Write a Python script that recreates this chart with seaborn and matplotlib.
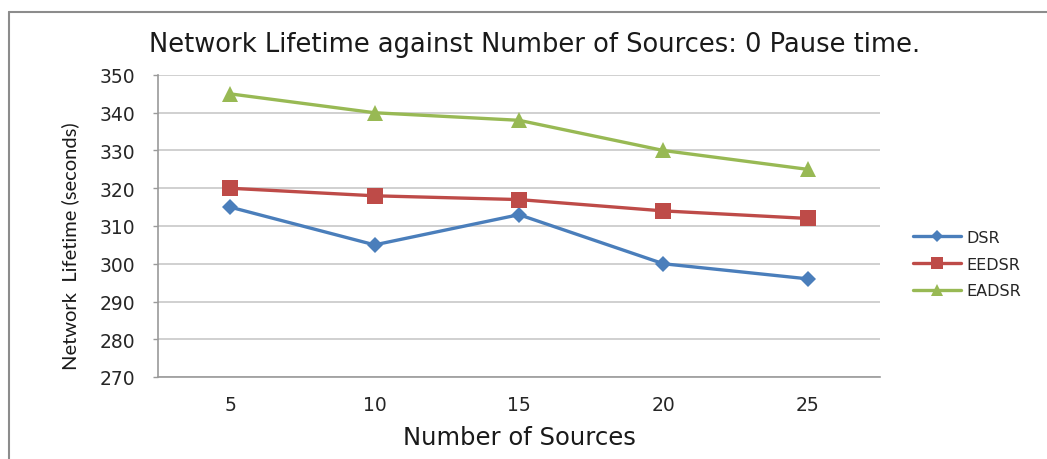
import matplotlib
matplotlib.use("Agg")
import matplotlib.pyplot as plt
from matplotlib.lines import Line2D
import pandas as pd
import seaborn as sns

sources = [5, 10, 15, 20, 25]
dsr = [315, 305, 313, 300, 296]
eedsr = [320, 318, 317, 314, 312]
eadsr = [345, 340, 338, 330, 325]
series_names = ["DSR", "EEDSR", "EADSR"]
y_ticks = [270, 280, 290, 300, 310, 320, 330, 340, 350]

df = pd.DataFrame({
    "Sources": sources * 3,
    "Lifetime": dsr + eedsr + eadsr,
    "Protocol": [n for n in series_names for _ in sources],
})

sns.set_theme(style="white")
plt.rcParams["font.family"] = ["DejaVu Sans"]

colors = {"DSR": "#4A7EBB", "EEDSR": "#BE4B48", "EADSR": "#98B954"}
markers = {"DSR": "D", "EEDSR": "s", "EADSR": "^"}
msizes = {"DSR": 8, "EEDSR": 11, "EADSR": 11}

fig = plt.figure(figsize=(10.47, 4.6), dpi=100)
ax = fig.add_axes([158 / 1047, 1 - 378 / 460, (880 - 158) / 1047, (378 - 76) / 460])

for name in series_names:
    sub = df[df["Protocol"] == name]
    sns.lineplot(data=sub, x="Sources", y="Lifetime", ax=ax, color=colors[name],
                 marker=markers[name], markersize=msizes[name], markeredgewidth=0,
                 linewidth=2.4, label=name, legend=False)

ax.set_xlim(2.5, 27.5)
ax.set_ylim(270, 350)
ax.set_xticks(sources)
ax.set_xticklabels([str(s) for s in sources])
ax.set_yticks(y_ticks)
ax.yaxis.grid(True, color="#c8c8c8", linewidth=1.2)
ax.xaxis.grid(False)
for side in ["top", "right"]:
    ax.spines[side].set_visible(False)
for side in ["left", "bottom"]:
    ax.spines[side].set_color("#9a9a9a")
    ax.spines[side].set_linewidth(1.2)
ax.tick_params(axis="y", left=True, length=3.6, color="#9a9a9a", width=1,
               labelsize=13.5, labelcolor="#262626", pad=13)
ax.tick_params(axis="x", bottom=False, length=0, labelsize=13.5, labelcolor="#262626", pad=13)

ax.set_xlabel("Number of Sources", fontsize=17.5, color="#1a1a1a")
ax.xaxis.set_label_coords(0.5, (378 - 426) / 302)
ax.set_ylabel("Network  Lifetime (seconds)", family=["Lato", "DejaVu Sans"],
              fontsize=14.5, color="#1a1a1a")
ax.yaxis.set_label_coords((79 - 158) / 722, (378 - 246) / 302)

fig.text(535 / 1047, 1 - 45 / 460, "Network Lifetime against Number of Sources: 0 Pause time.",
         ha="center", va="center", fontsize=18.5, color="#1a1a1a")

handles = [Line2D([0], [0], color=colors[n], marker=markers[n], markersize=msizes[n] * 0.8,
                  markeredgewidth=0, linewidth=2.4) for n in series_names]
fig.legend(handles, series_names, loc="center left",
           bbox_to_anchor=(899 / 1047, 1 - 265 / 460), frameon=False,
           fontsize=11.5, handlelength=3.0, handletextpad=0.3, labelspacing=0.75)

# outer chart frame
fig.add_artist(Line2D([9 / 1047, 9 / 1047], [0, 1 - 13 / 460], color="#8c8c8c",
                      linewidth=1.5, transform=fig.transFigure))
fig.add_artist(Line2D([9 / 1047, 1], [1 - 13 / 460, 1 - 13 / 460], color="#8c8c8c",
                      linewidth=1.5, transform=fig.transFigure))

fig.savefig("out.png", dpi=100, facecolor="white")
